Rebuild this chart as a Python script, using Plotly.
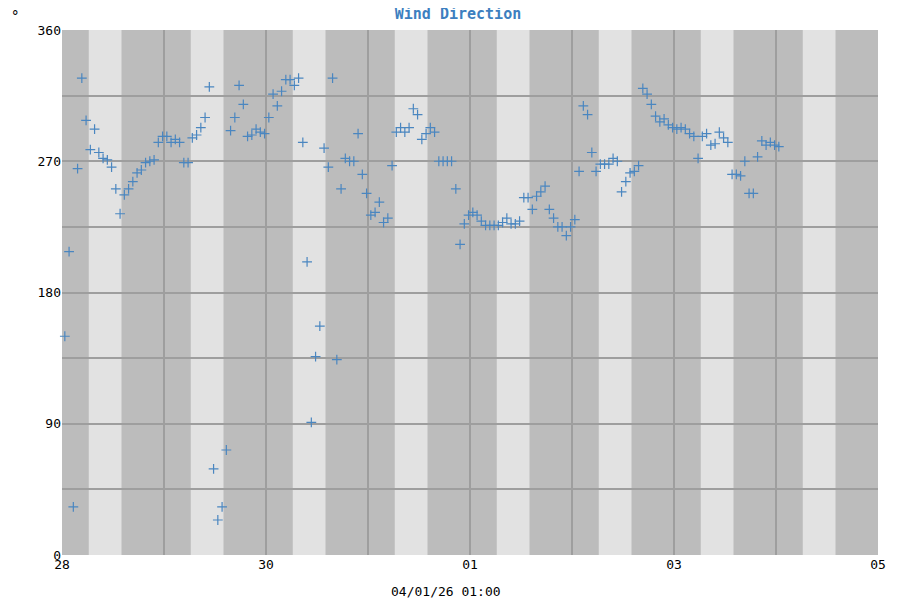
import pandas as pd
import plotly.graph_objects as go

start = pd.Timestamp("2026-03-27 23:40")

# wind direction readings, one per hour
direction = [313, 150, 208, 33, 265, 327, 298, 278, 292, 276, 272, 271, 266, 251, 234, 247, 251, 256,
             262, 264, 269, 270, 271, 283, 287, 287, 283, 285, 283, 269, 269, 286, 288, 293, 300, 321,
             59, 24, 33, 72, 291, 300, 322, 309, 287, 288, 292, 290, 289, 300, 316, 308, 318, 326,
             326, 322, 327, 283, 201, 91, 136, 157, 279, 266, 327, 134, 251, 272, 270, 270, 289, 261,
             248, 233, 235, 242, 228, 231, 267, 290, 293, 290, 293, 306, 302, 285, 289, 293, 290, 270,
             270, 270, 270, 251, 213, 227, 233, 235, 233, 229, 226, 226, 226, 226, 228, 231, 227, 227,
             229, 245, 245, 237, 246, 249, 253, 237, 231, 225, 225, 219, 225, 230, 263, 308, 302, 276,
             263, 268, 268, 268, 272, 270, 249, 256, 262, 263, 267, 320, 316, 309, 301, 297, 299, 295,
             293, 292, 293, 292, 289, 287, 272, 287, 289, 281, 282, 290, 286, 283, 261, 261, 260, 270,
             248, 248, 273, 284, 281, 283, 281, 280]
times = [start + pd.Timedelta(hours=i) for i in range(len(direction))]

days = pd.date_range("2026-03-28", "2026-04-04", freq="D")
tick_days = pd.date_range("2026-03-28", "2026-04-05", freq="2D")

fig = go.Figure()
fig.add_trace(go.Scatter(x=times, y=direction, mode="markers", cliponaxis=False,
                         marker=dict(symbol="cross-thin", size=7, line=dict(width=1.2, color="#4a86c0")),
                         hoverinfo="x+y"))

# daylight bands
for d in days:
    fig.add_vrect(x0=d + pd.Timedelta(hours=6.3), x1=d + pd.Timedelta(hours=14),
                  fillcolor="#e2e2e2", line_width=0, layer="below")

mono = "DejaVu Sans Mono"
fig.update_layout(
    width=900, height=600, showlegend=False,
    paper_bgcolor="white", plot_bgcolor="#bcbcbc",
    margin=dict(l=54, r=30, t=22, b=53),
    title=dict(text="<b>Wind Direction</b>", x=0.5, y=0.99, yanchor="middle", xanchor="center",
               font=dict(family=mono, size=15, color="#3d7fc0")),
    font=dict(family=mono, size=13, color="black"),
)
fig.update_xaxes(range=[pd.Timestamp("2026-03-28"), pd.Timestamp("2026-04-05")],
                 tickvals=tick_days, ticktext=[d.strftime("%d") for d in tick_days],
                 showgrid=True, gridcolor="#9e9e9e", gridwidth=1.5,
                 minor=dict(dtick=86400000, showgrid=True, gridcolor="#9e9e9e", gridwidth=1.5),
                 showline=False, zeroline=False, ticks="", automargin=False)
fig.update_yaxes(range=[0, 360], tickvals=[0, 90, 180, 270, 360],
                 showgrid=True, gridcolor="#9e9e9e", gridwidth=1.5,
                 minor=dict(dtick=45, showgrid=True, gridcolor="#9e9e9e", gridwidth=1.5),
                 zeroline=False, ticks="", automargin=False)
fig.add_annotation(text="04/01/26 01:00", xref="paper", yref="paper", x=0.47, y=-0.07,
                   yanchor="middle", showarrow=False, font=dict(family=mono, size=13))
fig.add_annotation(text="°", xref="paper", yref="paper", x=-0.065, y=1.045,
                   showarrow=False, font=dict(family=mono, size=14))

fig.write_html("out.html")
